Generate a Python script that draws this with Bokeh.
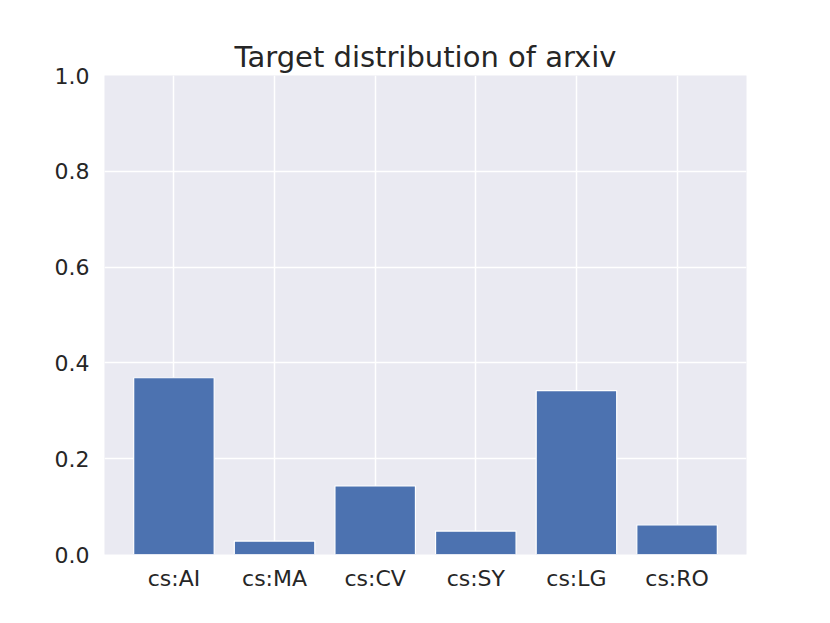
from bokeh.plotting import figure
from bokeh.models import ColumnDataSource, FixedTicker, Range1d
from bokeh.embed import file_html
from bokeh.resources import INLINE

categories = ["cs:AI", "cs:MA", "cs:CV", "cs:SY", "cs:LG", "cs:RO"]
values = [0.369, 0.028, 0.143, 0.049, 0.342, 0.062]
y_ticks = [0.0, 0.2, 0.4, 0.6, 0.8, 1.0]

xs = list(range(len(categories)))
src = ColumnDataSource(dict(x=xs, top=values))

p = figure(width=814, height=607, output_backend="svg", toolbar_location=None,
           x_range=Range1d(-0.69, 5.69), y_range=Range1d(0, 1.0),
           min_border_left=104, min_border_right=68, min_border_top=75, min_border_bottom=53)

p.vbar(x="x", top="top", bottom=0, width=0.8, source=src,
       fill_color="#4C72B0", line_color="white", line_width=1.2)

p.background_fill_color = "#EAEAF2"
p.border_fill_color = "white"
p.outline_line_color = None
p.grid.grid_line_color = "white"
p.grid.grid_line_width = 1.5

p.xaxis.ticker = FixedTicker(ticks=xs)
p.xaxis.major_label_overrides = {i: c for i, c in enumerate(categories)}
p.yaxis.ticker = FixedTicker(ticks=y_ticks)
p.yaxis.major_label_overrides = {t: f"{t:.1f}" for t in y_ticks}

for ax in (p.xaxis[0], p.yaxis[0]):
    ax.axis_line_color = None
    ax.major_tick_line_color = None
    ax.minor_tick_line_color = None
    ax.major_tick_out = 0
    ax.major_tick_in = 0
    ax.major_label_text_font = "DejaVu Sans"
    ax.major_label_text_font_size = "22px"
    ax.major_label_text_color = "#262626"
p.xaxis.major_label_standoff = 11
p.yaxis.major_label_standoff = 15

p.title.text = "Target distribution of arxiv"
p.title.align = "center"
p.title.text_font = "DejaVu Sans"
p.title.text_font_size = "29px"
p.title.text_font_style = "normal"
p.title.text_color = "#262626"
p.title.standoff = 3

open("out.html", "w").write(file_html(p, INLINE))
